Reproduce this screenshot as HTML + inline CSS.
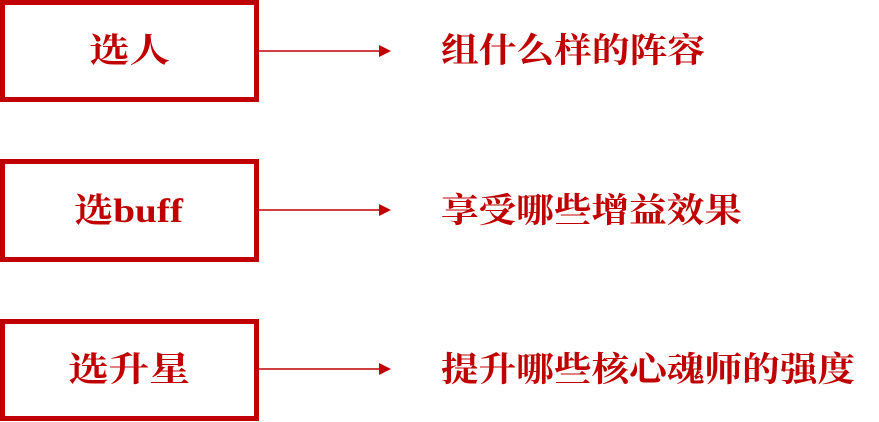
<!DOCTYPE html>
<html><head><meta charset="utf-8"><style>
html,body{margin:0;padding:0;background:#fff;width:879px;height:422px;overflow:hidden}
</style></head><body>
<svg width="879" height="422" xmlns="http://www.w3.org/2000/svg" font-family="'Liberation Serif','Noto Serif CJK SC',serif" font-weight="bold" fill="#c00000">
<g fill="none" stroke="#c00000" stroke-width="5">
<rect x="2.5" y="2.5" width="254" height="97"/>
<rect x="2.5" y="161.5" width="254" height="98"/>
<rect x="2.5" y="321.5" width="254" height="97"/>
</g>
<g stroke="#c00000" stroke-width="1.5">
<line x1="259" y1="51" x2="382" y2="51"/>
<line x1="259" y1="210" x2="382" y2="210"/>
<line x1="259" y1="369" x2="382" y2="369"/>
</g>
<polygon points="379,45 391,51 379,57"/>
<polygon points="379,204 391,210 379,216"/>
<polygon points="379,363 391,369 379,375"/>
<g font-size="34">
<text x="89" y="62" textLength="81" lengthAdjust="spacingAndGlyphs">选人</text>
<text x="74" y="222" textLength="109" lengthAdjust="spacingAndGlyphs">选buff</text>
<text x="68" y="381" textLength="122" lengthAdjust="spacingAndGlyphs">选升星</text>
<text x="441" y="62" textLength="264" lengthAdjust="spacingAndGlyphs">组什么样的阵容</text>
<text x="441" y="222" textLength="301" lengthAdjust="spacingAndGlyphs">享受哪些增益效果</text>
<text x="441" y="381" textLength="414" lengthAdjust="spacingAndGlyphs">提升哪些核心魂师的强度</text>
</g>
</svg>
</body></html>
